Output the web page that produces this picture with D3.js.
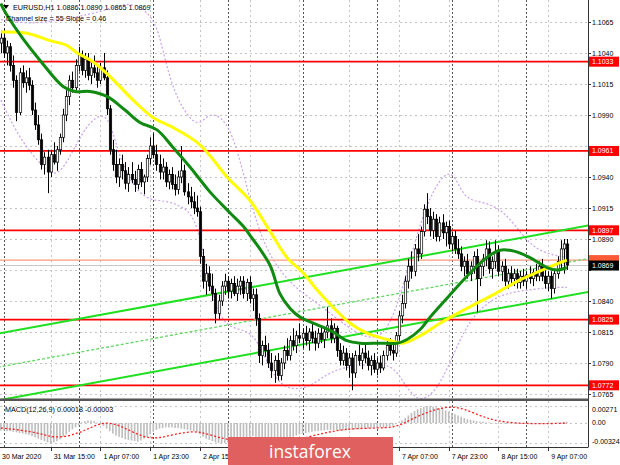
<!DOCTYPE html>
<html><head><meta charset="utf-8">
<script src="https://cdn.jsdelivr.net/npm/d3@7"></script>
<style>html,body{margin:0;padding:0;background:#fff;}svg{display:block;font-family:"Liberation Sans",Arial,sans-serif;}</style>
</head><body><svg id="c" width="620" height="465"></svg>
<script>
// ---------------- DATA ----------------
const symbolTitle = "EURUSD,H1  1.0886 1.0890 1.0865 1.0869";
const channelText = "Channel size = 55 Slope = 0.46";
const macdText = "MACD(12,26,9) 0.00018 -0.00003";
// visible time labels (those under the watermark are not shown in the reference)
const timeLabels = ["30 Mar 2020","31 Mar 15:00","1 Apr 07:00","1 Apr 23:00","2 Apr 15:00","7 Apr 07:00","7 Apr 23:00","8 Apr 15:00","9 Apr 07:00"];
const timeLabelBars = [0,16,32,48,64,128,144,160,176];
const gridBars = [16,32,48,64,80,96,112,128,144,160,176];
const separatorBars = [1,25,49,73,97,121,145,169];
const priceTicks = [1.1065,1.1040,1.1015,1.0990,1.0965,1.0940,1.0915,1.0890,1.0865,1.0840,1.0815,1.0790,1.0765];
const levels = [1.1033,1.0961,1.0897,1.0825,1.0772];
const bidPrice = 1.0869;
const orangeLevel = 1.0873;
const macdTicks = [0.00271,0.00,-0.00324];
// candles: [open, high, low, close]
const candles = [
[1.1048,1.1058,1.1040,1.1052],[1.1052,1.1060,1.1036,1.1040],[1.1040,1.1050,1.1030,1.1045],[1.1045,1.1048,1.1025,1.1030],
[1.1030,1.1038,1.1012,1.1018],[1.1018,1.1022,1.0985,1.0992],[1.0992,1.1028,1.0990,1.1024],[1.1024,1.1030,1.1012,1.1016],
[1.1016,1.1026,1.1008,1.1020],[1.1020,1.1028,1.1010,1.1014],[1.1014,1.1018,1.0990,1.0994],[1.0994,1.1000,1.0978,1.0982],
[1.0982,1.0990,1.0966,1.0970],[1.0970,1.0975,1.0946,1.0950],[1.0950,1.0960,1.0942,1.0956],[1.0956,1.0962,1.0927,1.0944],
[1.0944,1.0962,1.0940,1.0958],[1.0958,1.0968,1.0950,1.0952],[1.0952,1.0965,1.0945,1.0962],[1.0962,1.0975,1.0958,1.0972],
[1.0972,1.0995,1.0968,1.0990],[1.0990,1.1010,1.0985,1.1005],[1.1005,1.1022,1.0998,1.1018],[1.1018,1.1025,1.1008,1.1012],
[1.1012,1.1035,1.1010,1.1030],[1.1030,1.1045,1.1025,1.1038],[1.1038,1.1042,1.1022,1.1026],[1.1026,1.1040,1.1020,1.1035],
[1.1035,1.1040,1.1018,1.1022],[1.1022,1.1032,1.1015,1.1028],[1.1028,1.1038,1.1020,1.1024],[1.1024,1.1030,1.1012,1.1018],
[1.1018,1.1032,1.1015,1.1028],[1.1028,1.1040,1.1018,1.1020],[1.1020,1.1026,1.0990,1.0995],[1.0995,1.0998,1.0958,1.0962],
[1.0962,1.0970,1.0945,1.0950],[1.0950,1.0962,1.0935,1.0940],[1.0940,1.0955,1.0932,1.0950],[1.0950,1.0958,1.0938,1.0945],
[1.0945,1.0952,1.0930,1.0935],[1.0935,1.0948,1.0928,1.0942],[1.0942,1.0952,1.0935,1.0938],[1.0938,1.0945,1.0928,1.0934],
[1.0934,1.0950,1.0930,1.0946],[1.0946,1.0952,1.0932,1.0936],[1.0936,1.0942,1.0926,1.0940],[1.0940,1.0958,1.0936,1.0955],
[1.0955,1.0972,1.0950,1.0965],[1.0965,1.0975,1.0955,1.0958],[1.0958,1.0966,1.0945,1.0950],[1.0950,1.0958,1.0938,1.0944],
[1.0944,1.0955,1.0938,1.0948],[1.0948,1.0952,1.0932,1.0936],[1.0936,1.0946,1.0930,1.0942],[1.0942,1.0948,1.0930,1.0934],
[1.0934,1.0942,1.0925,1.0930],[1.0930,1.0945,1.0926,1.0940],[1.0940,1.0965,1.0935,1.0945],[1.0945,1.0950,1.0925,1.0928],
[1.0928,1.0935,1.0918,1.0924],[1.0924,1.0932,1.0915,1.0920],[1.0920,1.0928,1.0910,1.0915],[1.0915,1.0925,1.0908,1.0912],
[1.0912,1.0916,1.0870,1.0876],[1.0876,1.0882,1.0850,1.0856],[1.0856,1.0870,1.0845,1.0862],[1.0862,1.0868,1.0848,1.0852],
[1.0852,1.0862,1.0840,1.0846],[1.0846,1.0850,1.0822,1.0830],[1.0830,1.0845,1.0825,1.0840],[1.0840,1.0856,1.0836,1.0852],
[1.0852,1.0862,1.0845,1.0856],[1.0856,1.0860,1.0842,1.0848],[1.0848,1.0858,1.0842,1.0854],[1.0854,1.0860,1.0844,1.0846],
[1.0846,1.0858,1.0840,1.0852],[1.0852,1.0860,1.0845,1.0856],[1.0856,1.0860,1.0842,1.0846],[1.0846,1.0858,1.0840,1.0855],
[1.0855,1.0860,1.0838,1.0842],[1.0842,1.0850,1.0832,1.0845],[1.0845,1.0850,1.0820,1.0826],[1.0826,1.0830,1.0790,1.0796],
[1.0796,1.0808,1.0788,1.0804],[1.0804,1.0812,1.0795,1.0800],[1.0800,1.0806,1.0786,1.0790],[1.0790,1.0798,1.0778,1.0784],
[1.0784,1.0796,1.0774,1.0792],[1.0792,1.0798,1.0776,1.0780],[1.0780,1.0794,1.0776,1.0790],[1.0790,1.0804,1.0785,1.0800],
[1.0800,1.0810,1.0792,1.0796],[1.0796,1.0812,1.0792,1.0808],[1.0808,1.0818,1.0800,1.0804],[1.0804,1.0816,1.0798,1.0812],
[1.0812,1.0822,1.0806,1.0810],[1.0810,1.0818,1.0802,1.0814],[1.0814,1.0820,1.0804,1.0808],[1.0808,1.0818,1.0800,1.0815],
[1.0815,1.0822,1.0806,1.0810],[1.0810,1.0816,1.0800,1.0806],[1.0806,1.0818,1.0802,1.0814],[1.0814,1.0820,1.0806,1.0809],
[1.0809,1.0818,1.0802,1.0815],[1.0815,1.0835,1.0810,1.0820],[1.0820,1.0826,1.0806,1.0810],[1.0810,1.0822,1.0806,1.0818],
[1.0818,1.0820,1.0795,1.0800],[1.0800,1.0806,1.0788,1.0792],[1.0792,1.0804,1.0788,1.0798],[1.0798,1.0802,1.0784,1.0788],
[1.0788,1.0798,1.0778,1.0794],[1.0794,1.0798,1.0768,1.0782],[1.0782,1.0800,1.0778,1.0796],[1.0796,1.0805,1.0788,1.0792],
[1.0792,1.0802,1.0785,1.0798],[1.0798,1.0806,1.0790,1.0794],[1.0794,1.0800,1.0784,1.0788],[1.0788,1.0796,1.0780,1.0792],
[1.0792,1.0798,1.0782,1.0785],[1.0785,1.0794,1.0780,1.0790],[1.0790,1.0796,1.0782,1.0786],[1.0786,1.0800,1.0784,1.0796],
[1.0796,1.0808,1.0792,1.0804],[1.0804,1.0810,1.0796,1.0800],[1.0800,1.0808,1.0792,1.0798],[1.0798,1.0815,1.0795,1.0812],
[1.0812,1.0832,1.0808,1.0828],[1.0828,1.0845,1.0822,1.0838],[1.0838,1.0860,1.0834,1.0856],[1.0856,1.0874,1.0850,1.0868],
[1.0868,1.0880,1.0858,1.0864],[1.0864,1.0886,1.0860,1.0882],[1.0882,1.0894,1.0872,1.0878],[1.0878,1.0900,1.0874,1.0896],
[1.0896,1.0918,1.0892,1.0914],[1.0914,1.0927,1.0902,1.0908],[1.0908,1.0915,1.0892,1.0897],[1.0897,1.0912,1.0890,1.0906],
[1.0906,1.0910,1.0888,1.0892],[1.0892,1.0908,1.0888,1.0903],[1.0903,1.0910,1.0890,1.0895],[1.0895,1.0904,1.0884,1.0900],
[1.0900,1.0905,1.0882,1.0886],[1.0886,1.0896,1.0880,1.0892],[1.0892,1.0897,1.0878,1.0882],[1.0882,1.0890,1.0874,1.0878],
[1.0878,1.0884,1.0864,1.0868],[1.0868,1.0876,1.0860,1.0872],[1.0872,1.0878,1.0858,1.0862],[1.0862,1.0872,1.0856,1.0868],
[1.0868,1.0880,1.0862,1.0876],[1.0876,1.0882,1.0831,1.0858],[1.0858,1.0872,1.0852,1.0868],[1.0868,1.0878,1.0860,1.0874],
[1.0874,1.0889,1.0868,1.0882],[1.0882,1.0888,1.0862,1.0866],[1.0866,1.0876,1.0858,1.0872],[1.0872,1.0889,1.0866,1.0880],
[1.0880,1.0885,1.0860,1.0864],[1.0864,1.0872,1.0856,1.0868],[1.0868,1.0874,1.0852,1.0856],[1.0856,1.0866,1.0850,1.0862],
[1.0862,1.0868,1.0852,1.0858],[1.0858,1.0866,1.0852,1.0862],[1.0862,1.0866,1.0850,1.0855],[1.0855,1.0864,1.0850,1.0860],
[1.0860,1.0866,1.0852,1.0856],[1.0856,1.0864,1.0850,1.0861],[1.0861,1.0868,1.0854,1.0858],[1.0858,1.0866,1.0852,1.0863],
[1.0863,1.0870,1.0856,1.0860],[1.0860,1.0872,1.0856,1.0868],[1.0868,1.0874,1.0856,1.0860],[1.0860,1.0866,1.0850,1.0854],
[1.0854,1.0864,1.0848,1.0860],[1.0860,1.0864,1.0842,1.0850],[1.0850,1.0866,1.0846,1.0862],[1.0862,1.0876,1.0858,1.0872],
[1.0872,1.0889,1.0866,1.0882],[1.0882,1.0890,1.0862,1.0886],[1.0886,1.0890,1.0865,1.0869]
];
// moving averages: [bar index, price]
const maGreen = [[0,1.1080],[0.7,1.1076],[6.1,1.1055],[12.6,1.1034],[20,1.1013],[23.8,1.1009],[28.6,1.1009],[34.1,1.1005],[39.9,1.0994],
[44.7,1.0984],[50.2,1.0978],[55.3,1.0964],[60.8,1.0948],[64,1.0938],[67.2,1.0928],[73.7,1.0911],[78,1.0900],[80.1,1.0893],
[86.5,1.0869],[89.7,1.0846],[93,1.0834],[96.2,1.0827],[101.6,1.0821],[106.8,1.0815],[111.3,1.0808],[115.5,1.0806],
[121.9,1.0806],[127.4,1.0806],[130.6,1.0809],[134.8,1.0817],[138,1.0827],[144.4,1.0845],[151.8,1.0865],[157.3,1.0877],
[160.5,1.0881],[165.3,1.0880],[170.1,1.0875],[175.6,1.0867],[178.8,1.0865],[182,1.0867]];
const maYellow = [[0,1.1057],[8.4,1.1056],[15.8,1.1050],[21.3,1.1046],[24.5,1.1040],[29.6,1.1033],[35.1,1.1021],[42.5,1.1002],
[48.9,1.0988],[55.3,1.0980],[64,1.0966],[72.7,1.0940],[80.1,1.0921],[85.6,1.0900],[92,1.0875],[97.1,1.0863],[101.6,1.0849],
[106.8,1.0835],[112.3,1.0822],[117.7,1.0814],[124.1,1.0809],[129.3,1.0806],[134.8,1.0812],[141.2,1.0822],[149.8,1.0834],
[159,1.0846],[166.9,1.0857],[173.3,1.0864],[179.8,1.0871],[182,1.0873]];
// envelope bands (dotted violet): [bar index, price]
const bandUpper = [[0,1.1067],[9.4,1.1063],[19,1.1067],[28.6,1.1071],[35.1,1.1076],[41.5,1.1081],[46.3,1.1075],[50.2,1.1063],
[52.8,1.1034],[56,1.1006],[60.8,1.0986],[64,1.0982],[67.2,1.0992],[71.4,1.0988],[75.3,1.0970],[80.1,1.0921],[85,1.0881],
[93,1.0853],[102.6,1.0837],[112.3,1.0817],[118.7,1.0809],[123.5,1.0813],[128.3,1.0841],[133.1,1.0889],[138,1.0925],
[142.8,1.0944],[146,1.0942],[149.2,1.0921],[155.7,1.0920],[162.1,1.0912],[167.9,1.0892],[173.3,1.0879],[182,1.0875]];
const bandLower = [[0,1.1002],[6.1,1.0970],[13.5,1.0948],[17.4,1.0940],[21.3,1.0951],[26.4,1.0978],[31.9,1.0992],[35.1,1.0986],
[38.3,1.0954],[43.1,1.0930],[48,1.0921],[52.8,1.0921],[57.6,1.0917],[62.4,1.0909],[65.6,1.0873],[68.8,1.0833],[73.7,1.0817],
[80.1,1.0817],[84,1.0800],[88.8,1.0774],[93.9,1.0768],[99.4,1.0771],[103.6,1.0779],[109,1.0786],[115.5,1.0788],[121.9,1.0790],
[126.7,1.0786],[130,1.0772],[133.1,1.0762],[136.4,1.0760],[141.2,1.0772],[146,1.0800],[150.8,1.0825],[157.3,1.0841],
[163.7,1.0847],[170.1,1.0849],[176.5,1.0851],[182,1.0851]];
// regression channel end points: [bar index, price]
const channelUpper = [[-1,1.08136],[189,1.0901]];
const channelMiddle = [[-1,1.07866],[189,1.08743]];
const channelLower = [[-1,1.07598],[189,1.08474]];
// MACD main (histogram), one per bar
const macdMain = [
-0.0012,-0.0012,-0.0013,-0.0013,-0.0014,-0.0015,-0.0016,
-0.0017,-0.0018,-0.0019,-0.0021,-0.0023,-0.0025,-0.0027,
-0.0029,-0.0031,-0.0032,-0.0031,
-0.0029,-0.0026,-0.0022,-0.0018,-0.0014,-0.0010,-0.0007,-0.0004,
0.0001,0.0003,0.0004,0.0004,0.0003,0.0001,-0.0002,-0.0005,
-0.0009,-0.0013,-0.0017,-0.0020,-0.0022,-0.0024,-0.0026,-0.0027,-0.0028,-0.0029,-0.0030,
-0.0028,-0.0025,-0.0022,-0.0018,-0.0014,
-0.0011,-0.0009,-0.0008,-0.0007,-0.0007,-0.0007,-0.0008,-0.0008,
-0.0009,-0.0010,-0.0011,-0.0012,-0.0013,-0.0014,
-0.0018,-0.0022,-0.0025,-0.0027,-0.0029,-0.0031,-0.0032,-0.0032,-0.0032,
-0.0031,-0.0030,-0.0029,-0.0028,-0.0026,-0.0025,-0.0023,-0.0022,-0.0021,
-0.0022,-0.0026,-0.0029,-0.0031,-0.0032,-0.0032,-0.0032,-0.0031,-0.0030,
-0.0028,-0.0026,-0.0024,-0.0022,-0.0020,-0.0018,-0.0017,-0.0016,-0.0015,
-0.0014,-0.0013,-0.0013,-0.0012,-0.0012,-0.0011,-0.0011,-0.0011,-0.0012,
-0.0012,-0.0012,-0.0012,-0.0011,-0.0011,-0.0010,-0.0010,-0.0009,-0.0009,-0.0009,
-0.0008,-0.0008,-0.0008,-0.0007,-0.0007,-0.0006,-0.0005,-0.0004,
-0.0002,0.0001,0.0004,0.0008,0.0012,
0.0016,0.0019,0.0022,0.0024,0.0026,0.0027,
0.0027,0.0026,0.0025,0.0024,0.0022,0.0020,
0.0018,0.0016,0.0014,0.0012,0.0010,0.0008,0.0006,0.0005,0.0004,
0.0003,0.0002,0.0002,0.0001,0.0001,0.0000,0.0000,-0.0001,
-0.0001,-0.0001,-0.0001,-0.0001,-0.0001,-0.0001,-0.0001,-0.0001,-0.0001,-0.0001,0.0000,0.0000,0.0000,0.0000,0.0000,
0.0000,0.0000,0.0000,0.0001,0.0001,0.00018,0.00018];
// MACD signal: [bar index, value]
const macdSignal = [[0,-0.0008],[6,-0.0011],[12,-0.0016],[16,-0.0022],[20,-0.0023],[25,-0.0016],[29,-0.0007],[33,0.0001],
[36,-0.0001],[39,-0.0006],[43,-0.0016],[47,-0.0024],[51,-0.0024],[55,-0.0019],[60,-0.0014],[64,-0.0014],[68,-0.0020],
[73,-0.0027],[80,-0.0030],[88,-0.0029],[94,-0.0028],[99,-0.0022],[104,-0.0016],[108,-0.0012],[113,-0.0009],[121,-0.0008],
[126,-0.0007],[129,-0.0002],[132,0.0006],[136,0.0015],[140,0.0022],[144,0.0026],[148,0.0024],[152,0.0016],[156,0.0008],
[160,0.0003],[165,0.0000],[170,-0.0001],[176,-0.0001],[182,-0.00003]];

// ---------------- LAYOUT ----------------
const plotL = 0, plotR = 588, mainT = 0, mainB = 399, macdT = 401, macdB = 447;
const x = d3.scaleLinear().domain([0,182]).range([0.9, 0.9 + 182*3.11]);
const y = d3.scaleLinear().domain([1.0765,1.1065]).range([394,22]);
const yM = d3.scaleLinear().domain([-0.00324,0.00271]).range([443.3,406]);

const svg = d3.select("#c");
const defs = svg.append("defs");
defs.append("clipPath").attr("id","mainClip").append("rect").attr("x",plotL).attr("y",mainT).attr("width",plotR-plotL).attr("height",mainB-mainT);
defs.append("clipPath").attr("id","macdClip").append("rect").attr("x",plotL).attr("y",macdT).attr("width",plotR-plotL).attr("height",macdB-macdT);

const main = svg.append("g").attr("clip-path","url(#mainClip)");
const macd = svg.append("g").attr("clip-path","url(#macdClip)");
const px = v => Math.round(v) + 0.5;

// grid (main)
main.selectAll(".hg").data(priceTicks).join("line")
  .attr("x1",plotL).attr("x2",plotR).attr("y1",d=>px(y(d))).attr("y2",d=>px(y(d)))
  .attr("stroke","#c4c4c4").attr("stroke-dasharray","2,3");
main.selectAll(".vg").data(gridBars).join("line")
  .attr("x1",d=>px(x(d))).attr("x2",d=>px(x(d))).attr("y1",mainT).attr("y2",mainB)
  .attr("stroke","#c4c4c4").attr("stroke-dasharray","2,3");
main.selectAll(".sep").data(separatorBars).join("line")
  .attr("x1",d=>px(x(d))).attr("x2",d=>px(x(d))).attr("y1",mainT).attr("y2",mainB)
  .attr("stroke","#555").attr("stroke-dasharray","2,2");

// bands
const curveLine = (sc) => d3.line().x(d=>x(d[0])).y(d=>sc(d[1])).curve(d3.curveBasis);
[bandUpper,bandLower].forEach(b=>{
  main.append("path").attr("d",curveLine(y)(b)).attr("fill","none")
   .attr("stroke","#c9a0ec").attr("stroke-width",1.2).attr("stroke-dasharray","2,2");
});

// horizontal levels
main.append("line").attr("x1",plotL).attr("x2",plotR).attr("y1",y(orangeLevel)).attr("y2",y(orangeLevel))
  .attr("stroke","#ff9a7a").attr("stroke-width",1.2);
main.append("line").attr("x1",plotL).attr("x2",plotR).attr("y1",px(y(bidPrice))).attr("y2",px(y(bidPrice)))
  .attr("stroke","#c8c8c8").attr("stroke-width",1);
main.selectAll(".lvl").data(levels).join("line")
  .attr("x1",plotL).attr("x2",plotR).attr("y1",d=>y(d)).attr("y2",d=>y(d))
  .attr("stroke","#ff0000").attr("stroke-width",1.8);

// regression channel
const straight = d3.line().x(d=>x(d[0])).y(d=>y(d[1]));
main.append("path").attr("d",straight(channelUpper)).attr("stroke","#1fe01f").attr("stroke-width",2).attr("fill","none");
main.append("path").attr("d",straight(channelLower)).attr("stroke","#1fe01f").attr("stroke-width",2).attr("fill","none");
main.append("path").attr("d",straight(channelMiddle)).attr("stroke","#5fd85f").attr("stroke-width",1.3)
  .attr("stroke-dasharray","3,2").attr("fill","none");

// candles
const cg = main.append("g");
cg.selectAll(".wick").data(candles).join("line")
  .attr("x1",(d,i)=>px(x(i))).attr("x2",(d,i)=>px(x(i)))
  .attr("y1",d=>y(d[1])).attr("y2",d=>y(d[2])).attr("stroke","#000").attr("stroke-width",1);
cg.selectAll(".body").data(candles).join("rect")
  .attr("x",(d,i)=>px(x(i))-1.2).attr("width",2.4)
  .attr("y",d=>y(Math.max(d[0],d[3])))
  .attr("height",d=>Math.max(0.8,Math.abs(y(d[0])-y(d[3]))))
  .attr("fill",d=>d[3]>=d[0]?"#fff":"#000")
  .attr("stroke","#000").attr("stroke-width",0.7);

// moving averages
const maLine = d3.line().x(d=>x(d[0])).y(d=>y(d[1])).curve(d3.curveCatmullRom);
main.append("path").attr("d",maLine(maYellow)).attr("fill","none").attr("stroke","#ffff00").attr("stroke-width",3);
main.append("path").attr("d",maLine(maGreen)).attr("fill","none").attr("stroke","#108a10").attr("stroke-width",3);

// ---------- MACD pane ----------
macd.selectAll(".hg").data(macdTicks).join("line")
  .attr("x1",plotL).attr("x2",plotR).attr("y1",d=>px(yM(d))).attr("y2",d=>px(yM(d)))
  .attr("stroke","#c4c4c4").attr("stroke-dasharray","2,3");
macd.selectAll(".vg").data(gridBars).join("line")
  .attr("x1",d=>px(x(d))).attr("x2",d=>px(x(d))).attr("y1",macdT).attr("y2",macdB)
  .attr("stroke","#c4c4c4").attr("stroke-dasharray","2,3");
macd.selectAll(".sep").data(separatorBars).join("line")
  .attr("x1",d=>px(x(d))).attr("x2",d=>px(x(d))).attr("y1",macdT).attr("y2",macdB)
  .attr("stroke","#555").attr("stroke-dasharray","2,2");
macd.selectAll(".hist").data(macdMain).join("rect")
  .attr("x",(d,i)=>x(i)-0.8).attr("width",1.6)
  .attr("y",d=>Math.min(yM(0),yM(d))).attr("height",d=>Math.max(0.5,Math.abs(yM(d)-yM(0))))
  .attr("fill","#bdbdbd");
macd.append("path").attr("d",d3.line().x(d=>x(d[0])).y(d=>yM(d[1])).curve(d3.curveBasis)(macdSignal))
  .attr("fill","none").attr("stroke","#ff2020").attr("stroke-width",1.3).attr("stroke-dasharray","2,2");

// ---------- frame ----------
svg.append("line").attr("x1",plotR+0.5).attr("x2",plotR+0.5).attr("y1",0).attr("y2",macdB).attr("stroke","#333");
svg.append("rect").attr("x",0).attr("y",mainB-0.5).attr("width",plotR+0.5).attr("height",2.5).attr("fill","#555");
svg.append("line").attr("x1",0).attr("x2",plotR+0.5).attr("y1",macdB+0.5).attr("y2",macdB+0.5).attr("stroke","#333");

// price axis labels (those hidden behind a level label are skipped)
const axisFont = 7;
const labelled = levels.concat([bidPrice]);
const visibleTicks = priceTicks.filter(t => !labelled.some(l => Math.abs(y(l)-y(t)) < 8));
svg.selectAll(".pl").data(visibleTicks).join("text")
  .attr("x",plotR+4).attr("y",d=>y(d)+2.5).attr("font-size",axisFont).attr("fill","#000").text(d=>d.toFixed(4));
svg.selectAll(".pt").data(priceTicks).join("line")
  .attr("x1",plotR).attr("x2",plotR+3).attr("y1",d=>px(y(d))).attr("y2",d=>px(y(d))).attr("stroke","#333");
// level labels
const lab = svg.selectAll(".lv").data(levels).join("g");
lab.append("rect").attr("x",plotR+1).attr("y",d=>y(d)-5).attr("width",30).attr("height",10).attr("fill","#ff0000");
lab.append("text").attr("x",plotR+4).attr("y",d=>y(d)+2.5).attr("font-size",axisFont).attr("fill","#fff").text(d=>d.toFixed(4));
// orange + bid labels
svg.append("rect").attr("x",plotR+1).attr("y",y(orangeLevel)-5).attr("width",30).attr("height",10).attr("fill","#ff5a36");
svg.append("rect").attr("x",plotR+1).attr("y",y(bidPrice)-4.5).attr("width",30).attr("height",10).attr("fill","#000");
svg.append("text").attr("x",plotR+4).attr("y",y(bidPrice)+3).attr("font-size",axisFont).attr("fill","#fff").text(bidPrice.toFixed(4));

// MACD axis labels
svg.selectAll(".ml").data(macdTicks).join("text")
  .attr("x",plotR+4).attr("y",(d,i)=> i===0 ? yM(d)+5.5 : (i===2 ? yM(d)+0.5 : yM(d)+2.5))
  .attr("font-size",axisFont).attr("fill","#000").text(d=>d===0?"0.00":d.toFixed(5));

// time labels
svg.selectAll(".tl").data(timeLabels).join("text")
  .attr("x",(d,i)=> i===0 ? 2 : x(timeLabelBars[i])+3).attr("y",458.5)
  .attr("font-size",axisFont).attr("fill","#000").text(d=>d);
svg.selectAll(".tt").data(gridBars).join("line")
  .attr("x1",d=>px(x(d))).attr("x2",d=>px(x(d))).attr("y1",macdB).attr("y2",macdB+4).attr("stroke","#333");

// header texts
svg.append("path").attr("d","M3,5 L9,5 L6,9 Z").attr("fill","#000");
svg.append("text").attr("x",13).attr("y",10).attr("font-size",7.2).attr("fill","#000").text(symbolTitle);
svg.append("text").attr("x",6).attr("y",21).attr("font-size",7.2).attr("fill","#000").text(channelText);
svg.append("text").attr("x",5).attr("y",412).attr("font-size",7.2).attr("fill","#000").text(macdText);

// watermark
svg.append("rect").attr("x",228).attr("y",437).attr("width",165).attr("height",28).attr("fill","#e0605f");
svg.append("text").attr("x",310).attr("y",458).attr("text-anchor","middle").attr("font-family","'Open Sans',sans-serif")
  .attr("font-size",17.5).attr("fill","#fff").text("instaforex");
</script></body></html>
